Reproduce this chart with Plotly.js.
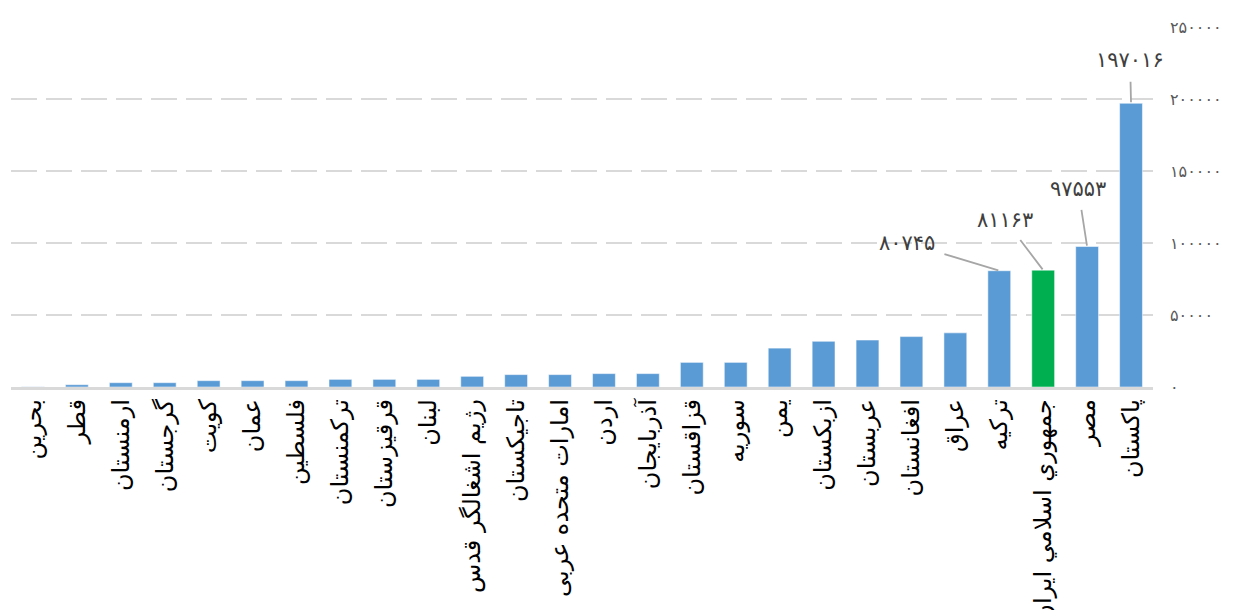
<!DOCTYPE html>
<html>
<head>
<meta charset="utf-8">
<script src="https://cdn.plot.ly/plotly-3.0.1.min.js"></script>
<style>html,body{margin:0;padding:0;background:#fff;}#chart{width:1236px;height:610px;}</style>
</head>
<body>
<div id="chart"></div>
<script>
const categories = ["بحرین","قطر","ارمنستان","گرجستان","کویت","عمان","فلسطین","ترکمنستان","قرقیزستان","لبنان","رژیم اشغالگر قدس","تاجیکستان","امارات متحده عربی","اردن","آذربایجان","قزاقستان","سوریه","یمن","ازبکستان","عربستان","افغانستان","عراق","ترکیه","جمهوري اسلامي ایران","مصر","پاکستان"];
const values = [150,1600,3000,3000,4400,4400,4400,5300,5300,5300,7400,8600,8600,9300,9300,17100,17100,27000,31700,32600,35000,37600,80745,81163,97553,197016];
const barColors = ["#5b9bd5","#5b9bd5","#5b9bd5","#5b9bd5","#5b9bd5","#5b9bd5","#5b9bd5","#5b9bd5","#5b9bd5","#5b9bd5","#5b9bd5","#5b9bd5","#5b9bd5","#5b9bd5","#5b9bd5","#5b9bd5","#5b9bd5","#5b9bd5","#5b9bd5","#5b9bd5","#5b9bd5","#5b9bd5","#5b9bd5","#00b050","#5b9bd5","#5b9bd5"];
const tickValues = [0,50000,100000,150000,200000,250000];
const labelledCategories = ["ترکیه","جمهوري اسلامي ایران","مصر","پاکستان"];
const labelOffsetsX = [-92,-38,-9,-1];
const labelOffsetsY = [-28,-50,-58,-43];

const fa = n => String(n).replace(/\d/g, d => "۰۱۲۳۴۵۶۷۸۹"[+d]);

const annotations = labelledCategories.map((c, k) => {
  const v = values[categories.indexOf(c)];
  return {
    x: c, y: v, xref: "x", yref: "y",
    text: fa(v),
    showarrow: true, arrowhead: 0, arrowwidth: 1.8, arrowcolor: "#a6a6a6",
    ax: labelOffsetsX[k], ay: labelOffsetsY[k],
    standoff: 1, startstandoff: 8,
    font: {family: "DejaVu Sans", size: 21, color: "#404040"}
  };
});

const trace = {
  type: "bar",
  x: categories,
  y: values,
  marker: {color: barColors, line: {color: "rgba(255,255,255,0.5)", width: 1}},
  hoverinfo: "x+y"
};

const layout = {
  width: 1236, height: 610,
  margin: {l: 11, r: 83, t: 27, b: 223},
  paper_bgcolor: "#fff", plot_bgcolor: "#fff",
  showlegend: false,
  bargap: 0.48,
  xaxis: {
    type: "category",
    range: [-0.5, 25.5],
    tickangle: -90,
    tickfont: {family: "DejaVu Sans", size: 24, color: "#000"},
    showline: true, linecolor: "#d9d9d9", linewidth: 2.5,
    showgrid: false, ticks: "", automargin: false
  },
  yaxis: {
    side: "right",
    range: [0, 250000],
    tickvals: tickValues,
    ticktext: tickValues.map(fa),
    tickfont: {family: "DejaVu Sans", size: 16, color: "#595959"},
    showgrid: true, gridcolor: "#d9d9d9", gridwidth: 2, griddash: "26px,9px",
    zeroline: false, showline: false, ticks: "",
    ticklabelstandoff: 16, automargin: false
  },
  annotations: annotations
};

Plotly.newPlot("chart", [trace], layout, {displayModeBar: false, staticPlot: true});
</script>
</body>
</html>
